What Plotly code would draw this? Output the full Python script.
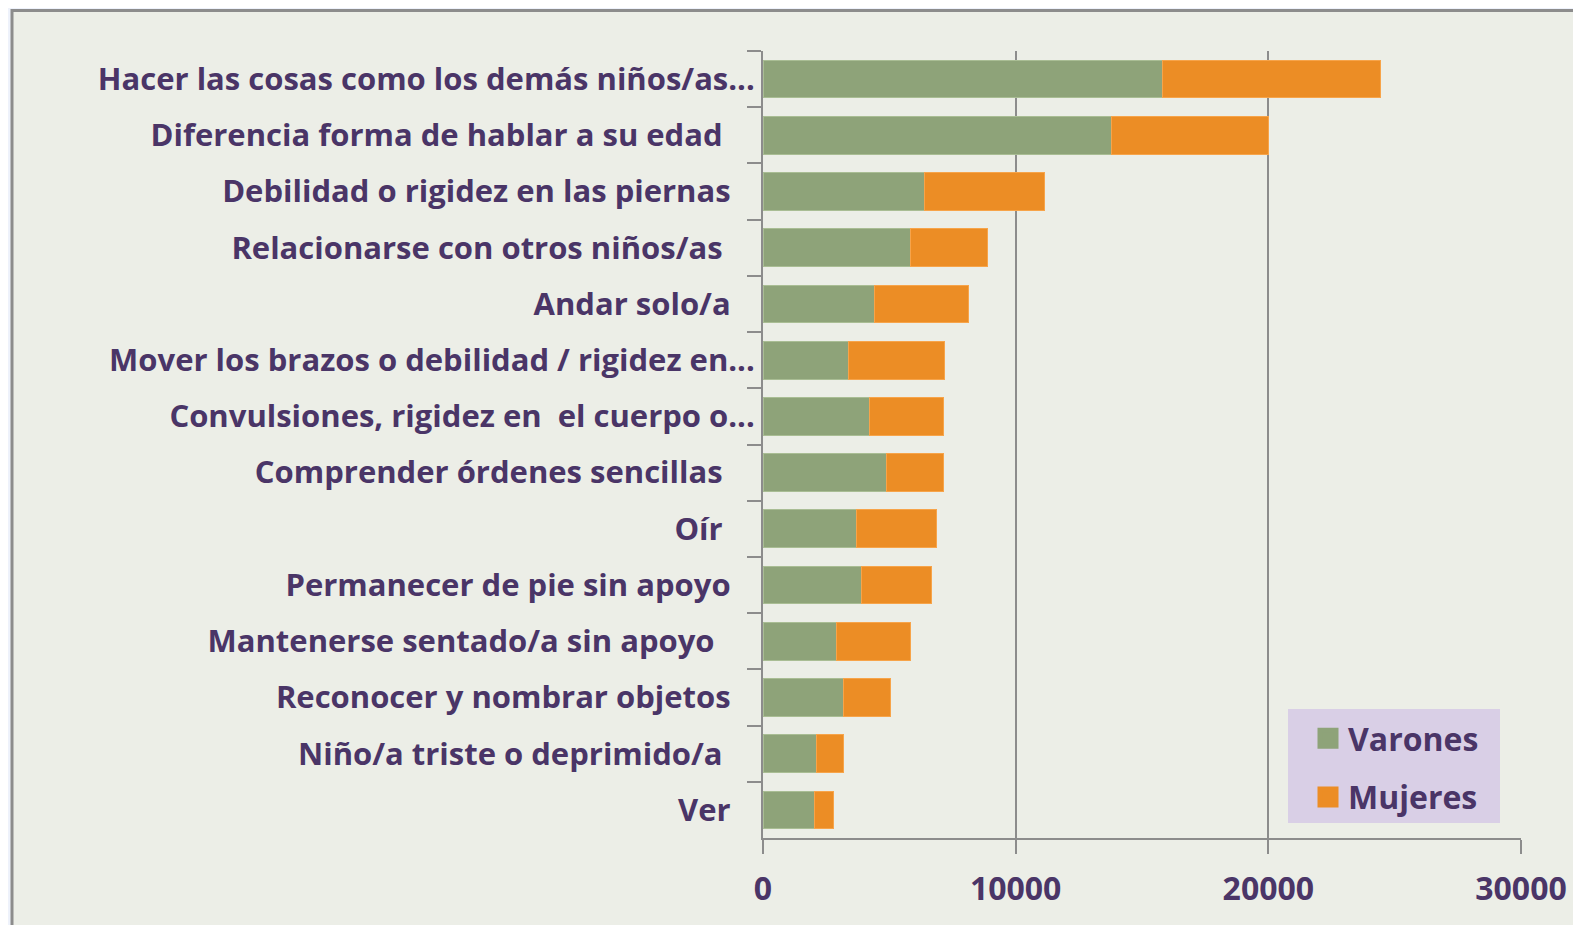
import plotly.graph_objects as go

# categories top to bottom
categorias = [
    "Hacer las cosas como los demás niños/as...",
    "Diferencia forma de hablar a su edad",
    "Debilidad o rigidez en las piernas",
    "Relacionarse con otros niños/as",
    "Andar solo/a",
    "Mover los brazos o debilidad / rigidez en...",
    "Convulsiones, rigidez en  el cuerpo o...",
    "Comprender órdenes sencillas",
    "Oír",
    "Permanecer de pie sin apoyo",
    "Mantenerse sentado/a sin apoyo",
    "Reconocer y nombrar objetos",
    "Niño/a triste o deprimido/a",
    "Ver",
]
varones = [15800, 13800, 6400, 5850, 4400, 3400, 4200, 4900, 3700, 3900, 2900, 3200, 2100, 2050]
mujeres = [8650, 6200, 4750, 3050, 3750, 3800, 2950, 2250, 3150, 2750, 2950, 1850, 1100, 750]
# trailing blanks as in the original labels
relleno = [0, 4, 3, 4, 3, 0, 0, 4, 4, 3, 5, 3, 4, 3]
x_ticks = [0, 10000, 20000, 30000]

etiquetas = [c + "\u00a0" * n for c, n in zip(categorias, relleno)]

PURPLE = "#4A3567"
GREEN = "#8EA379"
ORANGE = "#EC8D25"
GRID = "#8C8C8C"
FONT = dict(family="Open Sans", size=31, color=PURPLE, weight=700)
FONT_BIG = dict(FONT, size=32)

fig = go.Figure()
fig.add_trace(go.Bar(
    y=etiquetas, x=varones, orientation="h", name="Varones",
    marker=dict(color=GREEN, line=dict(color="#A9BD94", width=1)),
    showlegend=False,
))
fig.add_trace(go.Bar(
    y=etiquetas, x=mujeres, orientation="h", name="Mujeres",
    marker=dict(color=ORANGE, line=dict(color="#F7A44A", width=1)),
    showlegend=False,
))
# legend entries with bigger swatches
for name, col in [("Varones", GREEN), ("Mujeres", ORANGE)]:
    fig.add_trace(go.Scatter(
        x=[None], y=[None], mode="markers", name=name, legendgroup=name,
        marker=dict(symbol="square", size=16, color=col, line=dict(color=col, width=5)),
    ))

# the page puts the figure 8px in from the top-left corner
W, H = 1573, 917
L, R, T, B = 755, 60, 43, 87
pw, ph = W - L - R, H - T - B


def px(x):
    return (x - L) / pw


def py(y):
    return (T + ph - y) / ph


# outer frame
fig.add_shape(
    type="rect", xref="paper", yref="paper", layer="below",
    x0=px(4), x1=px(1620), y0=py(960), y1=py(2.5),
    fillcolor="#ECEEE7", line=dict(color=GRID, width=3),
)
# legend box
fig.add_shape(
    type="rect", xref="paper", yref="paper", layer="above",
    x0=px(1280), x1=px(1492), y0=py(815), y1=py(701),
    fillcolor="#D9CFE6", line=dict(width=0),
)

fig.update_layout(
    width=W, height=H, autosize=False,
    margin=dict(l=L, r=R, t=T, b=B),
    barmode="stack", bargap=0.33,
    paper_bgcolor="#EEF2FB", plot_bgcolor="#E3E9F2",
    font=FONT,
    showlegend=True,
    legend=dict(
        x=px(1300), y=py(703), xanchor="left", yanchor="top",
        bgcolor="rgba(0,0,0,0)", font=FONT_BIG, traceorder="grouped", tracegroupgap=14,
        itemwidth=30,
    ),
    xaxis=dict(
        range=[0, 30000], tickvals=x_ticks, ticktext=[str(v) for v in x_ticks],
        showgrid=True, gridcolor=GRID, gridwidth=1.5, zeroline=False,
        showline=True, linecolor=GRID, linewidth=2,
        ticks="outside", ticklen=14, tickcolor=GRID, tickwidth=2,
        tickfont=FONT_BIG, ticklabelstandoff=8,
    ),
    yaxis=dict(
        autorange="reversed", showgrid=False, zeroline=False,
        showline=True, linecolor=GRID, linewidth=2,
        ticks="outside", tickson="boundaries", ticklen=14, tickcolor=GRID, tickwidth=2,
        tickfont=FONT, ticklabelstandoff=0,
    ),
)

fig.write_html("out.html")
